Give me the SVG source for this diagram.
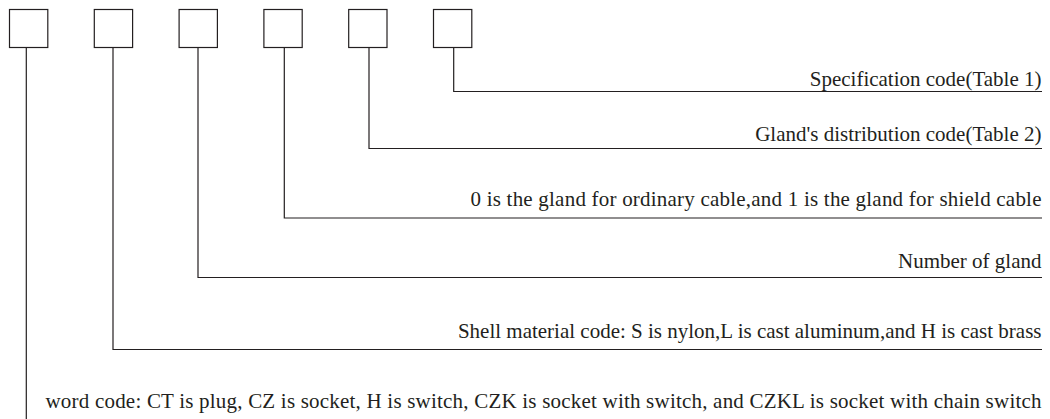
<svg xmlns="http://www.w3.org/2000/svg" width="1050" height="419" viewBox="0 0 1050 419">
<style>
.box{fill:#fff;stroke:#231f20;stroke-width:1.2}
.ln{fill:none;stroke:#231f20;stroke-width:1.2}
.lbl{font-family:"Liberation Serif","Times New Roman",serif;font-size:21px;fill:#231f20;text-anchor:end}
</style>
<rect width="1050" height="419" fill="#fff"/>
<g id="connectors">
<polyline class="ln" points="453.7,47.5 453.7,91.5 1042,91.5"/>
<polyline class="ln" points="369,47.5 369,148.5 1042,148.5"/>
<polyline class="ln" points="284.3,47.5 284.3,218 1042,218"/>
<polyline class="ln" points="198,47.5 198,277.5 1042,277.5"/>
<polyline class="ln" points="113,47.5 113,349.5 1042,349.5"/>
<polyline class="ln" points="26.3,47.5 26.3,419"/>
</g>
<g id="box1"><rect class="box" x="9.5" y="9.5" width="38.3" height="38"/></g>
<g id="box2"><rect class="box" x="94.3" y="9.5" width="38.3" height="38"/></g>
<g id="box3"><rect class="box" x="179.1" y="9.5" width="38.3" height="38"/></g>
<g id="box4"><rect class="box" x="263.9" y="9.5" width="38.3" height="38"/></g>
<g id="box5"><rect class="box" x="348.7" y="9.5" width="38.3" height="38"/></g>
<g id="box6"><rect class="box" x="433.5" y="9.5" width="38.3" height="38"/></g>
<g id="labels">
<text class="lbl" x="1041.5" y="86">Specification code(Table 1)</text>
<text class="lbl" x="1041.5" y="141">Gland's distribution code(Table 2)</text>
<text class="lbl" x="1041.5" y="206" textLength="571" lengthAdjust="spacing">0 is the gland for ordinary cable,and 1 is the gland for shield cable</text>
<text class="lbl" x="1041.5" y="268">Number of gland</text>
<text class="lbl" x="1041.5" y="338">Shell material code: S is nylon,L is cast aluminum,and H is cast brass</text>
<text class="lbl" x="1041.5" y="408" textLength="996" lengthAdjust="spacing">word code: CT is plug, CZ is socket, H is switch, CZK is socket with switch, and CZKL is socket with chain switch</text>
</g>
</svg>
